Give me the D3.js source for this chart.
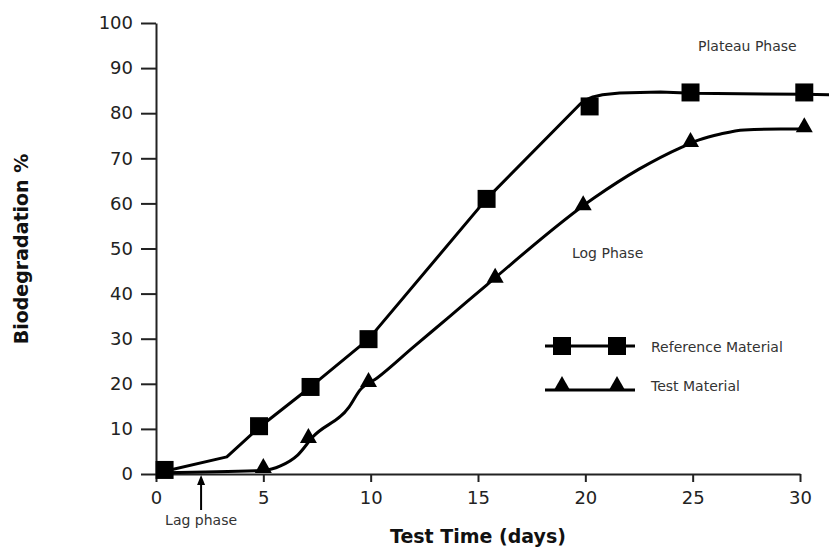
<!DOCTYPE html>
<html>
<head>
  <meta charset="utf8" />
  <style>
    body { margin: 0; background: #fff; }
    text { font-family: "DejaVu Sans", Verdana, sans-serif; fill: #222; }
    .axis text { font-size: 18px; fill: #222; }
    .axis path, .axis line { stroke: #222; stroke-width: 2px; }
    .title { font-weight: bold; font-size: 19px; text-anchor: middle; fill: #111; }
    .note { font-size: 14px; fill: #333; }
    .curve { fill: none; stroke: #000; stroke-width: 3px; stroke-linejoin: round; }
  </style>
</head>
<body>
  <script src="https://d3js.org/d3.v7.min.js"></script>
  <script>
    var width = 829, height = 548,
        margin = { left: 156, top: 23, right: 29, bottom: 74 };

    // marker values
    var refDays = [0.4, 4.8, 7.2, 9.9, 15.4, 20.2, 24.9, 30.2];
    var refPct  = [0.9, 10.6, 19.3, 29.9, 61.0, 81.5, 84.6, 84.6];
    var testDays = [5.0, 7.1, 9.9, 15.8, 19.9, 24.9, 30.2];
    var testPct  = [0.2, 6.9, 19.3, 42.4, 58.5, 72.5, 75.8];

    // traced curve paths
    var refLineDays = [0.4, 3.3, 4.8, 7.2, 9.9, 15.4, 19.75, 20.0, 20.35, 20.8, 21.6, 23.5, 25.0, 30.2, 31.4];
    var refLinePct  = [0.6, 3.8, 10.3, 19.3, 29.9, 61.0, 82.0, 82.9, 83.6, 84.1, 84.5, 84.7, 84.4, 84.2, 84.1];
    var testLineDays = [0.4, 5.0, 5.8, 6.6, 7.3, 9.0, 9.5, 10.3, 12.0, 13.7, 15.4, 20.4, 22.5, 24.5, 25.3, 26.3, 27.4, 29.1, 30.2];
    var testLinePct  = [0.3, 0.8, 1.8, 4.2, 8.2, 14.9, 18.6, 21.3, 28.2, 35.0, 41.9, 61.2, 67.6, 72.5, 74.1, 75.4, 76.3, 76.5, 76.5];

    var xTicks = [0, 5, 10, 15, 20, 25, 30];
    var yTicks = [0, 10, 20, 30, 40, 50, 60, 70, 80, 90, 100];
    var legendLabels = ["Reference Material", "Test Material"];

    var svg = d3.select("body").append("svg").attr("width", width).attr("height", height);

    var x = d3.scaleLinear().domain([0, 30]).range([margin.left, 800]);
    var y = d3.scaleLinear().domain([0, 100]).range([474, margin.top]);

    svg.append("g").attr("class", "axis")
        .attr("transform", "translate(0,474)")
        .call(d3.axisBottom(x).tickValues(xTicks).tickSize(8).tickSizeOuter(0).tickPadding(9));

    svg.append("g").attr("class", "axis")
        .attr("transform", "translate(" + margin.left + ",0)")
        .call(d3.axisLeft(y).tickValues(yTicks).tickSize(15).tickSizeOuter(0).tickPadding(8));

    var line = d3.line()
        .x(d => x(d[0]))
        .y(d => y(d[1]));

    svg.append("path").attr("class", "curve")
        .attr("d", line(d3.zip(refLineDays, refLinePct)));
    svg.append("path").attr("class", "curve")
        .attr("d", line.curve(d3.curveMonotoneX)(d3.zip(testLineDays, testLinePct)));

    var square = d3.symbol().type(d3.symbolSquare).size(324);
    // triangle sitting with its base on the point
    var triangle = "M0,-15L8.5,0L-8.5,0Z";

    svg.selectAll(".ref").data(d3.zip(refDays, refPct))
      .enter().append("path")
        .attr("class", "ref")
        .attr("d", square)
        .attr("transform", d => "translate(" + x(d[0]) + "," + y(d[1]) + ")");

    svg.selectAll(".test").data(d3.zip(testDays, testPct))
      .enter().append("path")
        .attr("class", "test")
        .attr("d", triangle)
        .attr("transform", d => "translate(" + x(d[0]) + "," + y(d[1]) + ")");

    // legend
    var legendY = [346, 390];
    legendLabels.forEach((label, i) => {
      var g = svg.append("g").attr("transform", "translate(545," + legendY[i] + ")");
      g.append("line").attr("x1", 0).attr("x2", 90).attr("stroke", "#000").attr("stroke-width", 3);
      [17, 72].forEach(cx => {
        g.append("path")
          .attr("d", i === 0 ? square : triangle)
          .attr("transform", "translate(" + cx + "," + (i === 0 ? 0 : 1) + ")");
      });
      g.append("text").attr("class", "note").attr("x", 106).attr("y", i === 0 ? 6 : 1).text(label);
    });

    // annotations
    svg.append("text").attr("class", "note").attr("x", 698).attr("y", 51).text("Plateau Phase");
    svg.append("text").attr("class", "note").attr("x", 572).attr("y", 258).text("Log Phase");
    svg.append("text").attr("class", "note").attr("x", x(2.1)).attr("y", 525)
      .attr("text-anchor", "middle").text("Lag phase");

    var ax = x(2.1);
    svg.append("line")
        .attr("x1", ax).attr("x2", ax).attr("y1", 510).attr("y2", 482)
        .attr("stroke", "#000").attr("stroke-width", 2);
    svg.append("path")
        .attr("d", "M" + ax + ",475l4,10l-8,0Z").attr("fill", "#000");

    // axis titles
    svg.append("text").attr("class", "title")
        .attr("x", 478).attr("y", 543).text("Test Time (days)");
    svg.append("text").attr("class", "title")
        .attr("transform", "translate(28,249) rotate(-90)").text("Biodegradation %");
  </script>
</body>
</html>
